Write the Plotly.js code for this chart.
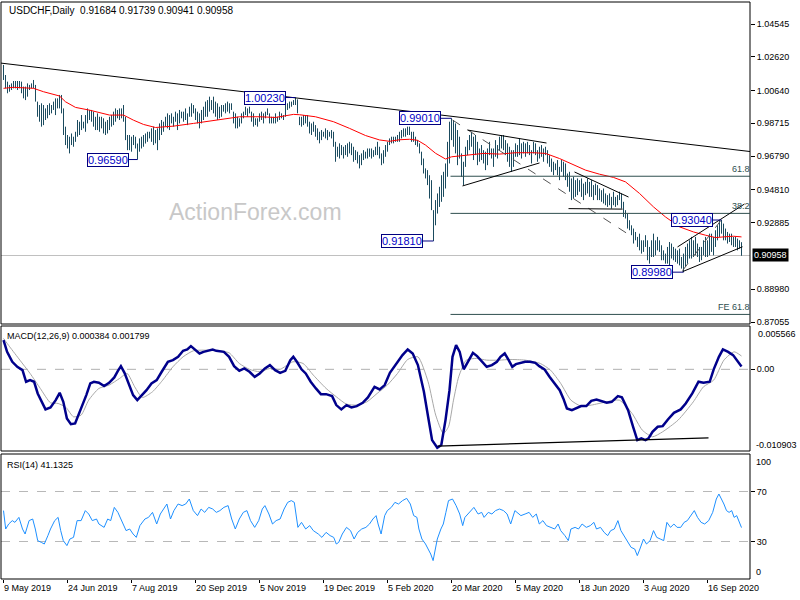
<!DOCTYPE html>
<html><head><meta charset="utf-8">
<script src="https://cdn.plot.ly/plotly-3.0.1.min.js"></script>
<style>html,body{margin:0;padding:0;background:#fff}#chart{width:800px;height:600px}</style>
</head><body><div id="chart"></div>
<script>
// ---------- DATA ----------
const symbolInfo = "USDCHF,Daily  0.91684 0.91739 0.90941 0.90958";
const lastClose = 0.90958;

const highs = [
1.0214,1.0155,1.0116,1.0097,1.0106,1.0120,1.0120,1.0120,1.0120,1.0116,
1.0087,1.0087,1.0106,1.0097,1.0106,1.0126,1.0097,0.9999,0.9979,0.9989,
0.9979,0.9959,0.9979,0.9989,0.9979,0.9999,1.0018,1.0018,1.0038,1.0038,
0.9959,0.9852,0.9803,0.9793,0.9812,0.9793,0.9822,0.9891,0.9881,0.9920,
0.9881,0.9920,0.9959,0.9950,0.9950,0.9940,0.9910,0.9930,0.9910,0.9910,
0.9901,0.9881,0.9891,0.9910,0.9920,0.9940,0.9959,0.9950,0.9959,0.9959,
0.9979,0.9910,0.9803,0.9803,0.9793,0.9803,0.9793,0.9753,0.9783,0.9793,
0.9803,0.9812,0.9822,0.9822,
0.9842,0.9852,0.9832,0.9842,0.9871,0.9891,0.9881,0.9910,0.9930,0.9920,
0.9930,0.9910,0.9940,0.9930,0.9950,0.9940,0.9940,0.9959,0.9930,0.9969,
0.9989,0.9979,0.9959,0.9940,0.9930,0.9950,0.9969,0.9999,1.0008,1.0028,
1.0008,1.0028,0.9999,0.9989,0.9969,0.9979,0.9979,0.9989,0.9999,0.9989,
0.9989,0.9940,0.9930,0.9910,0.9901,0.9930,0.9940,0.9969,0.9959,0.9969,
0.9940,0.9930,0.9901,0.9901,0.9930,0.9940,0.9930,0.9940,0.9959,0.9930,
0.9910,0.9910,0.9930,0.9910,0.9940,0.9930,0.9920,0.9979,0.9989,0.9999,
0.9999,1.0008,1.0023,1.0012,0.9910,
0.9910,0.9920,0.9920,0.9920,0.9881,0.9871,0.9881,0.9861,0.9842,0.9822,
0.9832,0.9822,0.9842,0.9832,0.9822,0.9832,0.9822,0.9763,0.9734,0.9754,
0.9744,0.9734,0.9744,0.9754,0.9763,0.9754,0.9734,0.9714,0.9705,0.9685,
0.9695,0.9714,0.9705,0.9724,0.9724,0.9724,0.9714,0.9734,0.9763,0.9734,
0.9695,0.9714,0.9744,0.9763,0.9783,0.9793,0.9793,0.9793,0.9803,0.9822,
0.9832,0.9842,0.9842,0.9852,0.9852,0.9822,0.9822,0.9793,0.9773,0.9754,
0.9705,0.9665,0.9607,0.9597,0.9567,0.9538,0.9362,0.9421,0.9460,0.9499,
0.9567,0.9587,0.9636,0.9763,0.9881,
0.9901,0.9891,0.9871,0.9832,0.9793,0.9695,0.9646,0.9734,0.9773,0.9803,
0.9822,0.9793,0.9803,0.9763,0.9724,0.9744,0.9714,0.9705,0.9724,0.9763,
0.9724,0.9724,0.9773,0.9744,0.9793,0.9803,0.9803,0.9773,0.9754,0.9734,
0.9714,0.9714,0.9754,0.9744,0.9783,0.9754,0.9763,0.9754,0.9763,0.9744,
0.9714,0.9763,0.9754,0.9714,0.9734,0.9744,0.9724,0.9734,0.9714,0.9685,
0.9665,0.9646,0.9636,0.9656,0.9616,0.9656,0.9646,0.9636,0.9577,0.9587,
0.9548,0.9558,0.9538,0.9548,0.9538,0.9548,0.9518,0.9528,0.9548,0.9528,
0.9538,0.9509,0.9518,0.9509,0.9489,0.9479,0.9489,0.9460,0.9450,0.9460,
0.9440,0.9470,0.9440,0.9450,0.9470,0.9460,0.9411,0.9362,0.9342,0.9303,
0.9273,0.9254,0.9234,0.9205,0.9224,0.9185,0.9185,0.9215,0.9185,0.9146,
0.9185,0.9224,0.9185,0.9205,0.9185,0.9156,0.9126,0.9107,0.9146,0.9175,
0.9166,0.9146,0.9136,0.9126,0.9136,0.9087,0.9107,0.9146,0.9166,0.9185,
0.9205,0.9185,0.9205,0.9166,0.9146,0.9146,0.9185,0.9205,0.9185,0.9224,
0.9224,0.9205,0.9244,0.9273,0.9303,0.9304,0.9283,0.9254,0.9234,0.9224,
0.9224,0.9205,0.9205,0.9195,0.9185,0.91739
];
const lows = [
1.0126,1.0077,1.0048,1.0057,1.0067,1.0077,1.0077,1.0067,1.0077,1.0048,
1.0018,1.0008,1.0028,1.0067,1.0077,1.0077,0.9999,0.9910,0.9881,0.9852,
0.9861,0.9891,0.9901,0.9920,0.9930,0.9950,0.9920,0.9959,0.9959,0.9930,
0.9803,0.9744,0.9724,0.9695,0.9744,0.9734,0.9763,0.9793,0.9803,0.9832,
0.9842,0.9822,0.9871,0.9891,0.9881,0.9852,0.9832,0.9832,0.9822,0.9842,
0.9812,0.9803,0.9812,0.9832,0.9852,0.9861,0.9881,0.9901,0.9891,0.9901,
0.9881,0.9773,0.9714,0.9714,0.9705,0.9744,0.9724,0.9659,0.9705,0.9724,
0.9734,0.9753,0.9763,0.9783,
0.9763,0.9744,0.9754,0.9714,0.9773,0.9803,0.9822,0.9852,0.9842,0.9832,
0.9871,0.9852,0.9881,0.9832,0.9871,0.9901,0.9881,0.9891,0.9861,0.9910,
0.9910,0.9930,0.9891,0.9871,0.9842,0.9871,0.9891,0.9910,0.9910,0.9940,
0.9950,0.9930,0.9910,0.9891,0.9901,0.9910,0.9940,0.9930,0.9940,0.9930,
0.9950,0.9871,0.9842,0.9842,0.9852,0.9871,0.9901,0.9920,0.9910,0.9930,
0.9881,0.9852,0.9861,0.9852,0.9881,0.9891,0.9871,0.9901,0.9920,0.9871,
0.9871,0.9871,0.9871,0.9881,0.9891,0.9901,0.9891,0.9910,0.9950,0.9959,
0.9969,0.9979,0.9979,0.9930,0.9861,
0.9852,0.9861,0.9871,0.9852,0.9812,0.9803,0.9822,0.9793,0.9773,0.9754,
0.9773,0.9793,0.9783,0.9773,0.9793,0.9783,0.9734,0.9646,0.9675,0.9665,
0.9685,0.9665,0.9685,0.9675,0.9695,0.9685,0.9646,0.9656,0.9636,0.9607,
0.9626,0.9656,0.9665,0.9665,0.9675,0.9665,0.9675,0.9685,0.9685,0.9665,
0.9626,0.9636,0.9675,0.9705,0.9744,0.9754,0.9754,0.9763,0.9763,0.9763,
0.9783,0.9793,0.9793,0.9803,0.9803,0.9763,0.9763,0.9744,0.9734,0.9695,
0.9626,0.9577,0.9548,0.9509,0.9430,0.9362,0.9181,0.9273,0.9342,0.9381,
0.9411,0.9440,0.9489,0.9558,0.9636,
0.9773,0.9734,0.9695,0.9626,0.9665,0.9558,0.9509,0.9616,0.9685,0.9714,
0.9734,0.9656,0.9685,0.9626,0.9646,0.9656,0.9636,0.9597,0.9626,0.9685,
0.9665,0.9616,0.9675,0.9665,0.9714,0.9724,0.9714,0.9685,0.9646,0.9616,
0.9587,0.9616,0.9675,0.9675,0.9685,0.9665,0.9695,0.9675,0.9695,0.9685,
0.9636,0.9695,0.9685,0.9646,0.9665,0.9675,0.9646,0.9685,0.9636,0.9616,
0.9587,0.9567,0.9597,0.9567,0.9538,0.9587,0.9558,0.9538,0.9499,0.9470,
0.9421,0.9430,0.9440,0.9450,0.9470,0.9440,0.9421,0.9450,0.9460,0.9440,
0.9440,0.9421,0.9450,0.9421,0.9421,0.9411,0.9401,0.9391,0.9381,0.9391,
0.9371,0.9391,0.9381,0.9391,0.9421,0.9371,0.9322,0.9313,0.9254,0.9244,
0.9215,0.9166,0.9185,0.9146,0.9126,0.9107,0.9117,0.9146,0.9068,0.9048,
0.9087,0.9087,0.9097,0.9126,0.9117,0.9068,0.9068,0.9048,0.9048,0.9038,
0.9078,0.9068,0.9058,0.9048,0.9038,0.9019,0.8998,0.9029,0.9048,0.9078,
0.9078,0.9087,0.9097,0.9087,0.9058,0.9068,0.9097,0.9087,0.9087,0.9097,
0.9117,0.9097,0.9146,0.9185,0.9205,0.9224,0.9185,0.9185,0.9166,0.9175,
0.9156,0.9146,0.9146,0.9126,0.9136,0.90941
];

// moving average (red), read at sample bars
const maIdx = [0,5,15,20,28,31,36,43,53,60,65,70,76,85,95,101,111,118,128,136,145,148,156,165,173,181,188,193,198,203,207,211,216,221,224,231,240,248,256,265,271,278,285,291,298,305,311,318,325,331,338,345,351,356,360,365,369];
const maVal = [1.0077,1.0083,1.0077,1.0057,1.0032,0.9998,0.9965,0.9949,0.9920,0.9920,0.9890,0.9865,0.9847,0.9855,0.9871,0.9881,0.9900,0.9910,0.9910,0.9906,0.9924,0.9922,0.9910,0.9881,0.9842,0.9800,0.9774,0.9766,0.9775,0.9778,0.9772,0.9744,0.9696,0.9662,0.9675,0.9685,0.9695,0.9691,0.9699,0.9699,0.9695,0.9665,0.9626,0.9597,0.9573,0.9554,0.9528,0.9460,0.9381,0.9322,0.9264,0.9234,0.9215,0.9201,0.9205,0.9209,0.9205];

// MACD(12,26,9)
const macdIdx = [0,1.8,4.4,6.9,9.5,11.3,13.3,15.3,17.1,18.9,21,23.5,26.1,28.1,29.9,31.7,33.7,35.8,37.5,39.3,41.4,43.4,45.2,47.7,50.3,52.8,55.4,57.2,58.7,60.5,63.1,64.8,66.9,68.9,71.5,74,76.6,79.1,82.2,84.7,87.3,89.8,91.9,93.7,95.7,98,100,102.6,104.6,106.4,110.2,112.8,115.3,117.9,120.4,123,125.6,128.1,130.7,133.2,135.8,138.3,140.9,143.4,144.9,146.7,149,151.1,153.6,156.2,158.7,161.3,164.3,166.4,168.9,171.5,174,176.6,179.6,182.2,185.5,188.1,190.6,193.2,196.5,199.5,202.1,204.6,207.2,210.2,212.3,214.3,216.9,218.9,221,223,224.5,226.3,228.1,230.1,232.2,234.7,236.8,239.1,241.6,244.2,246.7,248.5,250.6,252.6,254.4,256.2,258.2,260.8,263.3,265.9,267.9,270.5,273,275.6,278.1,279.9,281.7,284.2,286.3,288.8,291.4,293.9,296.5,299,301.6,304.1,307.2,309.2,312.3,314.8,316.9,318.9,321,322.5,324.5,327.1,329.6,332.2,335.2,338.6,341.1,344.4,347.5,350,353.1,355.1,357.7,359.7,362.3,364.8,367.4,369];
const macdVal = [0.00394,0.00236,0.00102,0.00034,-0.00011,-0.00168,-0.00146,-0.00168,-0.00326,-0.00416,
-0.00541,-0.00514,-0.00416,-0.00317,-0.00439,-0.00663,-0.00740,-0.00730,-0.00618,-0.00506,
-0.00348,-0.00190,-0.00168,-0.00182,-0.00227,-0.00182,-0.00109,-0.00020,0.00043,-0.00047,
-0.00236,-0.00348,-0.00416,-0.00362,-0.00281,-0.00190,-0.00146,-0.00033,0.00102,0.00124,
0.00169,0.00250,0.00268,0.00313,0.00268,0.00214,0.00236,0.00250,0.00268,0.00250,
0.00236,0.00169,0.00043,-0.00020,0.00012,-0.00033,-0.00101,-0.00056,0.00012,0.00057,
-0.00011,-0.00047,-0.00020,0.00124,0.00169,0.00102,0.00000,-0.00056,-0.00168,-0.00258,
-0.00335,-0.00335,-0.00362,-0.00483,-0.00541,-0.00483,-0.00514,-0.00497,-0.00452,-0.00379,
-0.00236,-0.00271,-0.00213,-0.00047,0.00079,0.00192,0.00268,0.00214,0.00057,-0.00303,
-0.00641,-0.00956,-0.01060,-0.01023,-0.00686,-0.00281,0.00169,0.00327,0.00236,0.00000,
0.00102,0.00223,0.00178,0.00102,0.00034,0.00057,0.00102,0.00169,0.00214,0.00124,
0.00034,0.00070,0.00088,0.00102,0.00102,0.00088,0.00043,0.00000,-0.00101,-0.00190,
-0.00281,-0.00393,-0.00528,-0.00551,-0.00528,-0.00497,-0.00497,-0.00425,-0.00407,-0.00425,
-0.00452,-0.00439,-0.00362,-0.00379,-0.00551,-0.00776,-0.00956,-0.00933,-0.00956,-0.00933,
-0.00843,-0.00776,-0.00767,-0.00677,-0.00587,-0.00541,-0.00461,-0.00326,-0.00168,-0.00182,
-0.00168,0.00000,0.00169,0.00268,0.00236,0.00192,0.00102,0.000384];
const sigIdx = [0,3.1,8.2,13.3,18.4,23.5,27.3,31.2,35,38.8,42.6,47.7,52.8,58,61.8,65.6,69.4,74.5,79.6,84.7,89.8,94.9,100,107.7,112.8,117.9,123,128.1,133.2,138.3,144.7,149.8,154.9,161.3,166.4,171.5,176.6,181.7,186.8,191.9,197,202.1,207.2,212.3,216.1,219.9,222.5,225,227.6,231.4,236.5,241.6,248,253.1,260.8,268.4,273.5,278.6,283.7,288.8,293.9,301.6,307.9,314.3,319.4,324.5,329.6,337.3,344.9,350,355.1,360.2,365.3,369];
const sigVal = [0.00417,0.00304,0.00124,-0.00056,-0.00258,-0.00452,-0.00461,-0.00514,-0.00641,-0.00618,
-0.00416,-0.00258,-0.00213,-0.00124,-0.00056,-0.00236,-0.00380,-0.00303,-0.00146,0.00034,
0.00169,0.00250,0.00259,0.00250,0.00223,0.00079,0.00000,-0.00033,0.00012,0.00000,
0.00102,0.00079,-0.00078,-0.00258,-0.00371,-0.00470,-0.00483,-0.00439,-0.00326,-0.00213,
-0.00056,0.00133,0.00169,-0.00168,-0.00618,-0.00866,-0.00776,-0.00416,-0.00101,0.00124,
0.00147,0.00124,0.00124,0.00133,0.00124,0.00079,-0.00011,-0.00190,-0.00416,-0.00497,
-0.00483,-0.00439,-0.00416,-0.00596,-0.00821,-0.00911,-0.00843,-0.00686,-0.00439,-0.00236,
-0.00146,0.00124,0.00236,0.001799];
const macdMax = 0.005566, macdMin = -0.010903;

// RSI(14)
const rsiIdx = [0,1.1,2.6,4.4,5.7,7.7,9.5,10.8,12.8,14.6,15.9,17.1,18.9,20.4,22.2,23.5,25.6,27.3,28.6,29.9,31.7,33.2,35,36.8,38.8,40.9,42.6,44.4,46.5,47.7,50.3,52.1,53.6,55.4,57.2,59.2,61.3,63.1,64.8,66.4,68.2,70.7,72.5,74.5,76.6,78.4,79.6,81.7,83.5,85.2,87.3,89.3,91.1,92.9,94.9,97,98.8,100.6,102.6,104.6,106.4,108.2,110.2,112.3,114.1,115.9,117.9,119.9,121.7,123.5,125.6,127.6,129.4,130.7,132.7,134.5,136.3,138.3,140.3,142.1,143.9,145.4,147.2,149,151.1,153.1,154.9,157.4,159.2,161.3,163.3,165.1,166.4,167.6,169.4,171.5,173.5,175.3,177.1,179.1,181.2,183,184.7,186.3,187.3,188.8,190.6,191.9,193.9,195.7,197.5,199.5,201.6,203.4,205.1,206.7,207.7,209.2,211,212.3,213.6,214.8,216.1,216.9,218.7,219.9,221.2,222.5,224.5,226.3,228.1,229.6,230.7,232.2,234,235.2,237.3,239.1,240.3,242.4,244.2,246,248,250,251.8,253.6,255.7,256.9,258.7,260.8,262.8,264.6,266.4,267.9,269.7,271.5,273.5,275.6,277.3,278.6,280.7,282.4,283.7,285.8,287.5,289.3,291.4,293.4,295.2,296.5,298.5,300.3,302.1,303.6,305.4,307.2,308.7,309.7,311.8,313.8,315.6,316.9,318.2,320,321.5,323.3,325,326.6,328.4,330.1,331.7,333.5,335.2,336.8,338.6,340.3,341.9,343.7,345.4,347,348.8,350.6,352.6,354.6,356.4,357.7,359,360.2,361.5,362.8,364.1,365.3,366.6,369];
const rsiVal = [
54.7,40.0,44.0,46.7,45.3,49.3,40.0,36.0,46.7,48.0,
40.0,30.7,29.3,28.0,34.7,40.0,46.7,49.3,38.7,30.7,
26.7,32.0,33.3,46.7,46.7,54.7,52.0,46.7,48.0,44.0,
41.3,48.0,46.7,57.3,53.3,46.7,38.7,40.0,36.0,33.3,
42.7,48.0,49.3,53.3,44.0,52.0,54.7,60.0,48.0,54.7,
60.0,58.7,60.0,64.0,54.7,50.7,56.0,53.3,57.3,56.0,
53.3,54.7,57.3,58.7,48.0,40.0,48.0,53.3,54.7,46.7,
41.3,46.7,56.0,58.7,52.0,44.0,46.7,48.0,56.0,61.3,
62.7,61.3,41.3,45.3,40.0,42.7,38.7,36.0,33.3,37.3,
34.7,33.3,28.0,29.3,36.0,41.3,38.7,32.0,37.3,40.0,
41.3,44.0,48.0,50.7,44.0,36.0,50.7,54.7,57.3,61.3,
60.0,62.7,64.5,60.0,50.7,49.3,40.0,32.0,28.0,24.0,
20.0,14.7,24.0,32.0,40.0,44.0,53.3,62.7,64.0,58.7,
52.0,42.7,49.3,52.0,56.0,57.3,52.0,53.3,49.3,53.3,
52.0,54.7,56.0,54.7,52.0,44.0,54.7,53.3,50.7,52.0,
53.3,49.3,52.0,44.0,46.7,42.7,41.3,40.0,44.0,38.7,
34.7,30.7,40.0,41.3,40.0,44.0,41.3,42.7,45.3,40.0,
41.3,37.3,34.7,38.7,40.0,46.7,38.7,36.0,30.7,25.3,
24.0,18.7,24.0,32.0,28.0,30.7,38.7,33.3,32.0,30.7,
45.3,41.3,44.0,41.3,41.3,45.3,46.7,50.7,54.7,49.3,
45.3,44.0,46.7,53.3,64.0,68.0,64.0,60.0,54.7,53.3,
54.7,49.3,50.7,41.1325];
const rsiLevels = [70, 30];

// time axis labels
const dateIdx = [0,32,64,96,128,160,192,224,256,288,320,352];
const dateLabels = ["9 May 2019","24 Jun 2019","7 Aug 2019","20 Sep 2019","5 Nov 2019","19 Dec 2019","5 Feb 2020","20 Mar 2020","5 May 2020","18 Jun 2020","3 Aug 2020","16 Sep 2020"];
const priceTicks = [1.04545,1.02620,1.00640,0.98715,0.96790,0.94810,0.92885,0.88980,0.87055];

// swing labels: [bar index, price]
const swingIdx = [67,146,224,215,340,359];
const swingVal = [0.96590,1.00230,0.99010,0.91810,0.89980,0.93040];

// fibonacci levels
const fibNames = ["61.8","38.2","FE 61.8"];
const fibVals = [0.9561,0.9343,0.8750];
const fibStart = 223.5;

// trend lines [x0,y0,x1,y1,dashed]
const trendLines = [
  [-1.25,1.0225,373.25,0.9706,false],
  [224.5,0.9891,313,0.9216,true],
  [232,0.9832,271.5,0.9756,false],
  [229.5,0.9504,268,0.9639,false],
  [285.5,0.9586,312.5,0.9439,false],
  [282.5,0.9371,309.5,0.9368,false],
  [337,0.9146,370.5,0.9398,false],
  [339.5,0.9001,369.5,0.9147,false],
  [339.5,0.9007,359.5,0.9314,true]
];
const macdSupport = [217,-0.01037,352.5,-0.00925];

// ---------- CHECKS ----------
function chk(a,b,n){ if(a.length!==b.length) throw new Error(n+" length mismatch "+a.length+" vs "+b.length); }
chk(highs,lows,"bars"); chk(maIdx,maVal,"ma"); chk(macdIdx,macdVal,"macd"); chk(sigIdx,sigVal,"sig"); chk(rsiIdx,rsiVal,"rsi");

// ---------- BUILD ----------
const bx=[], by=[];
for(let i=0;i<highs.length;i++){ bx.push(i,i,null); by.push(lows[i],highs[i],null); }

const F = "Liberation Sans, Arial, sans-serif";
const pY = px => 1 - px/600;

const traces = [
  {x:bx, y:by, type:'scatter', mode:'lines', line:{color:'#1b4b5f', width:1}, connectgaps:false, hoverinfo:'skip', xaxis:'x', yaxis:'y'},
  {x:maIdx, y:maVal, type:'scatter', mode:'lines', line:{color:'#ff0000', width:1}, hoverinfo:'skip', xaxis:'x', yaxis:'y'},
  {x:sigIdx, y:sigVal, type:'scatter', mode:'lines', line:{color:'#a8a8a8', width:1, shape:'spline', smoothing:0.6}, hoverinfo:'skip', xaxis:'x', yaxis:'y2'},
  {x:macdIdx, y:macdVal, type:'scatter', mode:'lines', line:{color:'#00008b', width:2.5}, hoverinfo:'skip', xaxis:'x', yaxis:'y2'},
  {x:rsiIdx, y:rsiVal, type:'scatter', mode:'lines', line:{color:'#1e90ff', width:1}, hoverinfo:'skip', xaxis:'x', yaxis:'y3'}
];

const shapes = [];
// pane frames
[[2,324],[326,451],[454,579]].forEach(p=>{
  shapes.push({type:'rect', xref:'paper', yref:'paper', x0:0, x1:1, y0:pY(p[1]), y1:pY(p[0]), line:{color:'#000', width:1}, layer:'above'});
});
// bid line
shapes.push({type:'line', xref:'paper', yref:'y', x0:0, x1:1, y0:lastClose, y1:lastClose, line:{color:'#c0c0c0', width:1}, layer:'below'});
// fib lines
fibVals.forEach(v=>shapes.push({type:'line', xref:'x', yref:'y', x0:fibStart, x1:373.25, y0:v, y1:v, line:{color:'#2f4f4f', width:1}}));
// trend lines
trendLines.forEach(t=>shapes.push({type:'line', xref:'x', yref:'y', x0:t[0], y0:t[1], x1:t[2], y1:t[3], line:{color: t[4]?'#555555':'#000000', width:1, dash: t[4]?'dash':'solid'}}));
// MACD zero & support
shapes.push({type:'line', xref:'paper', yref:'y2', x0:0, x1:1, y0:0, y1:0, line:{color:'#b0b0b0', width:1, dash:'dash'}, layer:'below'});
shapes.push({type:'line', xref:'x', yref:'y2', x0:macdSupport[0], y0:macdSupport[1], x1:macdSupport[2], y1:macdSupport[3], line:{color:'#000', width:1.2}});
// RSI levels
rsiLevels.forEach(v=>shapes.push({type:'line', xref:'paper', yref:'y3', x0:0, x1:1, y0:v, y1:v, line:{color:'#b8b8b8', width:1, dash:'dash'}, layer:'below'}));

const ann = [];
ann.push({xref:'paper', yref:'paper', x:(7-1)/749, y:pY(10), xanchor:'left', yanchor:'middle', text:symbolInfo.replace("  ","&nbsp;&nbsp;"), showarrow:false, font:{family:F, size:10, color:'#000'}});
ann.push({xref:'paper', yref:'paper', x:(256-1)/749, y:pY(212), xanchor:'center', yanchor:'middle', text:'ActionForex.com', showarrow:false, font:{family:F, size:23, color:'#c8c8c8'}});
ann.push({xref:'paper', yref:'paper', x:(5-1)/749, y:pY(336), xanchor:'left', yanchor:'middle', text:'MACD(12,26,9) 0.000384 0.001799', showarrow:false, font:{family:F, size:9, color:'#000'}});
ann.push({xref:'paper', yref:'paper', x:(5-1)/749, y:pY(465), xanchor:'left', yanchor:'middle', text:'RSI(14) 41.1325', showarrow:false, font:{family:F, size:9, color:'#000'}});
// swing boxes
const axOff = [-30,-31,-32,-32,-32,-30];
swingIdx.forEach((ix,i)=>{
  ann.push({xref:'x', yref:'y', x:ix, y:swingVal[i], text:swingVal[i].toFixed(5), showarrow:true, arrowhead:0, arrowwidth:1, arrowcolor:'#000080', ax:axOff[i], ay:0, standoff:0,
    bordercolor:'#000080', borderwidth:1, borderpad:0, bgcolor:'#ffffff', font:{family:F, size:11, color:'#0000c8'}});
});
// fib labels
fibNames.forEach((n,i)=>ann.push({xref:'paper', yref:'y', x:1, xshift:2, y:fibVals[i], xanchor:'right', yanchor:'bottom', text:n, showarrow:false, font:{family:F, size:9, color:'#2f4f4f'}}));
// price box
ann.push({xref:'paper', yref:'y', x:1, xshift:2, y:lastClose, xanchor:'left', yanchor:'middle', text:lastClose.toFixed(5), showarrow:false, bgcolor:'#000', borderpad:1, font:{family:F, size:9, color:'#fff'}});
// MACD/RSI extreme labels
ann.push({xref:'paper', yref:'paper', x:1, xshift:6, y:pY(334), xanchor:'left', yanchor:'middle', text:macdMax.toFixed(6), showarrow:false, font:{family:F, size:9, color:'#000'}});
ann.push({xref:'paper', yref:'paper', x:1, xshift:4, y:pY(445), xanchor:'left', yanchor:'middle', text:macdMin.toFixed(6), showarrow:false, font:{family:F, size:9, color:'#000'}});
ann.push({xref:'paper', yref:'paper', x:1, xshift:4, y:pY(462), xanchor:'left', yanchor:'middle', text:'100', showarrow:false, font:{family:F, size:9, color:'#000'}});
ann.push({xref:'paper', yref:'paper', x:1, xshift:4, y:pY(572), xanchor:'left', yanchor:'middle', text:'0', showarrow:false, font:{family:F, size:9, color:'#000'}});
// dates
dateIdx.forEach((ix,i)=>ann.push({xref:'x', yref:'paper', x:ix-0.6, y:pY(588), xanchor:'left', yanchor:'middle', text:dateLabels[i], showarrow:false, font:{family:F, size:9, color:'#000'}}));

const yBase = {side:'right', anchor:'x', showgrid:false, zeroline:false, showline:false, ticks:'outside', ticklen:4, tickcolor:'#000', fixedrange:true, tickfont:{family:F, size:9, color:'#000'}};
const layout = {
  width:800, height:600, margin:{l:1, r:50, t:0, b:0}, paper_bgcolor:'#fff', plot_bgcolor:'#fff', showlegend:false,
  xaxis:{domain:[0,1], range:[-1.25,373.25], anchor:'y3', showgrid:false, zeroline:false, showline:false, tickvals:dateIdx, ticks:'outside', ticklen:3, tickcolor:'#000', showticklabels:false, fixedrange:true},
  yaxis:Object.assign({}, yBase, {domain:[pY(324),pY(2)], range:[0.86938,1.05836], tickvals:priceTicks, ticktext:priceTicks.map(v=>v.toFixed(5))}),
  yaxis2:Object.assign({}, yBase, {domain:[pY(451),pY(326)], range:[-0.01103,0.00585], tickvals:[0], ticktext:['0.00']}),
  yaxis3:Object.assign({}, yBase, {domain:[pY(579),pY(454)], range:[0,100], tickvals:rsiLevels, ticktext:rsiLevels.map(String)}),
  shapes:shapes, annotations:ann
};
Plotly.newPlot('chart', traces, layout, {displayModeBar:false, staticPlot:true});
</script>
</body></html>
